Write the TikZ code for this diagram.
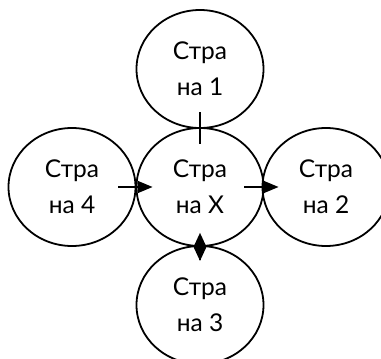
\documentclass[tikz,border=0pt]{standalone}
\usepackage{fontspec}
\setmainfont{Lato}
\usetikzlibrary{shapes.geometric,arrows.meta}

\begin{document}
\begin{tikzpicture}[x=1pt,y=1pt,line width=1.8pt,
        country/.style={draw,ellipse,minimum width=127pt,minimum height=118pt,inner sep=0pt,
            align=center,font=\fontsize{24.5}{36}\selectfont},
        link/.style={line width=1.8pt}]
        \useasboundingbox (0,0) rectangle (381,359);
        \node[country] (x) at (200,172) {Стра\\на X};
        \node[country] (s1) at (200,290) {Стра\\на 1};
        \node[country] (s2) at (326,172) {Стра\\на 2};
        \node[country] (s3) at (200,54) {Стра\\на 3};
        \node[country] (s4) at (72,172) {Стра\\на 4};
        \draw[link] ([yshift=15pt]x.north) -- ([yshift=-15pt]s1.south);
        \draw[link,-{Triangle[length=15pt,width=12pt]}] ([xshift=-18pt]s4.east) -- ([xshift=17pt]x.west);
        \draw[link,-{Triangle[length=15pt,width=12pt]}] ([xshift=-20pt]x.east) -- ([xshift=17pt]s2.west);
        \draw[link,-{Diamond[length=28pt,width=13pt]}] ([yshift=-14pt]s3.north) -- ([yshift=14pt]x.south);
    \end{tikzpicture}
\end{document}
